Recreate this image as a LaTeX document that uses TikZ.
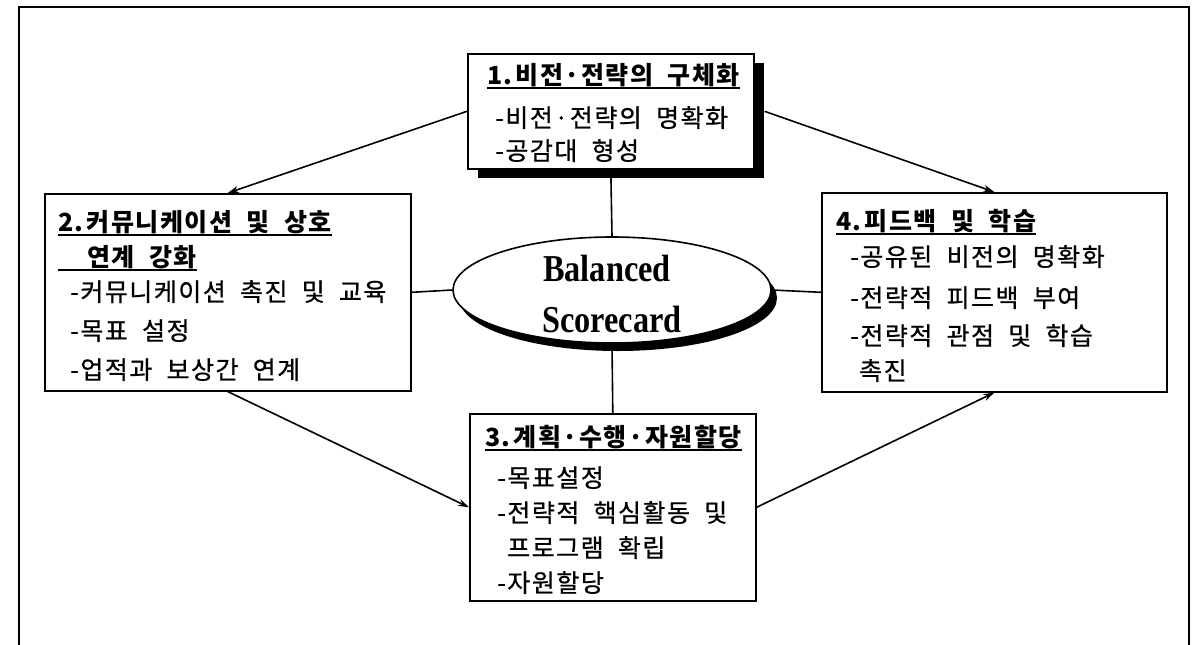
\documentclass[tikz,border=0pt]{standalone}
\usepackage{fontspec}
\newfontfamily\kr[WordSpace=2,LetterSpace=6]{Noto Sans CJK KR}
\newfontfamily\krbody[WordSpace=2,LetterSpace=6,FakeBold=0.7]{Noto Sans CJK KR}
\newfontfamily\tnr{Liberation Serif}
\usetikzlibrary{arrows.meta,shapes.geometric,shadows}
\newcommand{\myul}[1]{\leavevmode\setbox0=\hbox{#1}\rlap{\rule[-5pt]{\wd0}{2pt}}\box0}
\begin{document}
\begin{tikzpicture}[x=1pt,y=-1pt,
  box/.style={draw=black,line width=1.6pt,fill=white,rectangle,inner sep=0pt,anchor=north west},
  shbox/.style={box,drop shadow={shadow xshift=10pt,shadow yshift=-9pt,fill=black,opacity=1}},
  ell/.style={ellipse,draw=black,line width=1.6pt,fill=white,inner sep=0pt,
    minimum width=318pt,minimum height=106pt,
    drop shadow={shadow xshift=6pt,shadow yshift=-8pt,fill=black,opacity=1}},
  txt/.style={anchor=base west,inner sep=0pt,font=\krbody\fontsize{25}{30}\selectfont},
  ttl/.style={anchor=base west,inner sep=0pt,font=\kr\bfseries\fontsize{25}{30}\selectfont},
  bsc/.style={anchor=base,inner sep=0pt,font=\tnr\bfseries\fontsize{38}{44}\selectfont},
  conn/.style={line width=1.6pt,draw=black},
  arr/.style={conn,-{Stealth[length=11pt,width=7pt]}}
]
\useasboundingbox (0,0) rectangle (1195,645);
% outer frame
\draw[line width=1.8pt] (19,645) -- (19,7) -- (1189,7) -- (1189,645);

% boxes
\node[shbox,minimum width=286pt,minimum height=115pt] (b1) at (467,53) {};
\node[box,minimum width=366pt,minimum height=197pt] (b2) at (44,193) {};
\node[box,minimum width=286pt,minimum height=187pt] (b3) at (469,413) {};
\node[box,minimum width=345pt,minimum height=199pt] (b4) at (821,192) {};
\node[ell] (ell) at (612,290) {};

% connectors
\draw[arr] (b1.west) -- (b2.north);
\draw[arr] (b2.south) -- (b3.west);
\draw[arr] (b3.east) -- (b4.south);
\draw[arr] ([xshift=10pt]b1.east) -- (b4.north);
\draw[conn] (b1.south) -- (ell.north);
\draw[conn] (ell.south) -- (b3.north);
\draw[conn] (b2.east) -- (ell.west);
\draw[conn] (ell.east) -- (b4.west);

% ellipse text
\node[bsc] (bal) at (607,281) {\scalebox{0.85}[1]{Balanced}};
\node[bsc] (sc) at (612,332) {\scalebox{0.85}[1]{Scorecard}};

% box 1 text
\node[ttl] (t1a) at (487,84) {\myul{1.\hspace{3pt}비전·전략의 구체화}};
\node[txt] (t1b) at (495,127) {-비전·전략의 명확화};
\node[txt] (t1c) at (495,160) {-공감대 형성};

% box 2 text
\node[ttl] (t2a) at (58,231) {\myul{2.\hspace{3pt}커뮤니케이션 및 상호}};
\node[ttl] (t2b) at (58,266) {\myul{\hspace*{29pt}연계 강화}};
\node[txt] (t2c) at (70,301) {-커뮤니케이션 촉진 및 교육};
\node[txt] (t2d) at (70,340) {-목표 설정};
\node[txt] (t2e) at (70,379) {-업적과 보상간 연계};

% box 3 text
\node[ttl] (t3a) at (485,446) {\myul{3.\hspace{3pt}계획·수행·자원할당}};
\node[txt] (t3b) at (497,487) {-목표설정};
\node[txt] (t3c) at (497,522) {-전략적 핵심활동 및};
\node[txt] (t3d) at (507,557) {프로그램 확립};
\node[txt] (t3e) at (497,592) {-자원할당};

% box 4 text
\node[ttl] (t4a) at (836,230) {\myul{4.\hspace{3pt}피드백 및 학습}};
\node[txt] (t4b) at (850,266) {-공유된 비전의 명확화};
\node[txt] (t4c) at (850,307) {-전략적 피드백 부여};
\node[txt] (t4d) at (850,345) {-전략적 관점 및 학습};
\node[txt] (t4e) at (859,380) {촉진};
\end{tikzpicture}
\end{document}
